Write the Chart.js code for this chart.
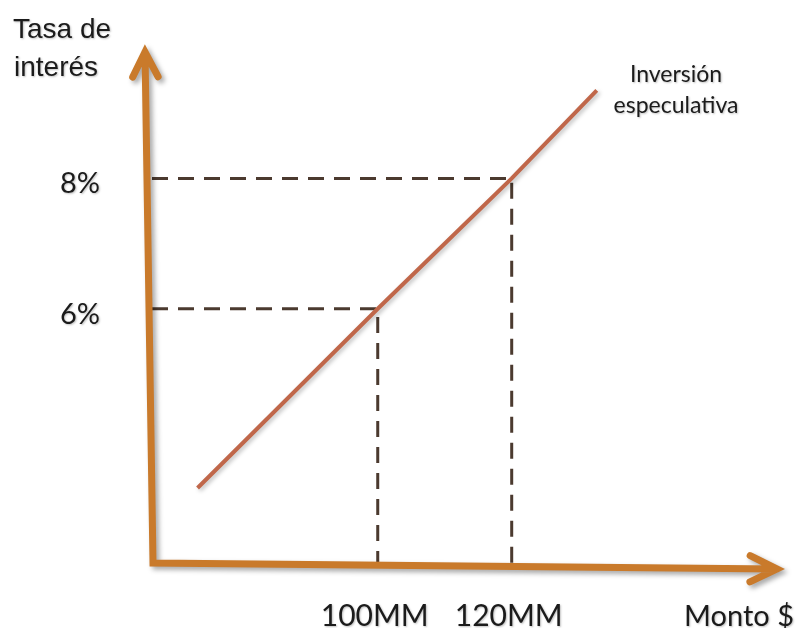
<!DOCTYPE html>
<html>
<head>
<meta charset="utf-8">
<script src="https://cdn.jsdelivr.net/npm/chart.js@4.4.0/dist/chart.umd.min.js"></script>
<style>
  html, body { margin: 0; padding: 0; background: #ffffff; }
  #wrap { width: 797px; height: 628px; position: relative; }
</style>
</head>
<body>
<div id="wrap"><canvas id="c" width="797" height="628"></canvas></div>
<script>
// Speculative investment curve: amount (millions) against interest rate (%)
const curveMonto = [73.1, 100, 120, 132.7];
const curveTasa = [3.25, 6, 8, 9.35];

// Points highlighted with dashed guides
const guideMonto = [100, 120];
const guideTasa = [6, 8];

// Tick labels for the guides
const xTickLabels = ['100MM', '120MM'];
const yTickLabels = ['6%', '8%'];

// Axis extents (amount, rate)
const xRange = [66.3, 160.8];
const yRange = [2.1, 10];

const yTitle = ['Tasa de', 'interés'];
const xTitle = 'Monto $';
const curveName = ['Inversión', 'especulativa'];

const AXIS_COLOR = '#c97a2b';
const CURVE_COLOR = '#c0674a';
const GUIDE_COLOR = '#4b3a2f';
const TEXT_COLOR = '#1b1b1b';

const curveData = curveMonto.map((m, i) => ({ x: m, y: curveTasa[i] }));

const guideSets = guideMonto.map((m, i) => ({
  data: [
    { x: xRange[0], y: guideTasa[i] },
    { x: m, y: guideTasa[i] },
    { x: m, y: yRange[0] }
  ],
  showLine: true,
  borderColor: GUIDE_COLOR,
  borderWidth: 3,
  borderDash: [16, 10],
  borderCapStyle: 'butt',
  borderJoinStyle: 'miter',
  pointRadius: 0,
  tension: 0
}));

// Two wing end points of an open arrow head at `tip`, pointing away from `from`
function arrowPoints(from, tip, len, deg) {
  const dx = from.x - tip.x, dy = from.y - tip.y;
  const d = Math.hypot(dx, dy);
  const ux = dx / d, uy = dy / d;
  const a = deg * Math.PI / 180;
  const c = Math.cos(a), s = Math.sin(a);
  return [
    { x: tip.x + len * (ux * c - uy * s), y: tip.y + len * (ux * s + uy * c) },
    { x: tip.x + len * (ux * c + uy * s), y: tip.y + len * (-ux * s + uy * c) }
  ];
}

const decor = {
  id: 'decor',
  beforeDatasetDraw(chart, args) {
    if (args.index === 0) {
      const ctx = chart.ctx;
      ctx.save();
      ctx.shadowColor = 'rgba(0,0,0,0.25)';
      ctx.shadowBlur = 4;
      ctx.shadowOffsetX = 2;
      ctx.shadowOffsetY = 2;
    }
  },
  afterDatasetDraw(chart, args) {
    if (args.index === 0) chart.ctx.restore();
  },
  afterDatasetsDraw(chart) {
    const ctx = chart.ctx;
    const xs = chart.scales.x, ys = chart.scales.y;
    const origin = { x: xs.getPixelForValue(xRange[0]) + 1, y: ys.getPixelForValue(yRange[0]) };
    const yTip = { x: origin.x - 8, y: ys.getPixelForValue(yRange[1]) + 4 };
    const xTip = { x: xs.getPixelForValue(xRange[1]) - 8, y: origin.y + 6 };
    const yw = arrowPoints(origin, yTip, 28, 27);
    const xw = arrowPoints(origin, xTip, 30, 26);

    ctx.save();
    ctx.strokeStyle = AXIS_COLOR;
    ctx.lineWidth = 7;
    ctx.lineCap = 'round';
    ctx.lineJoin = 'miter';
    ctx.shadowColor = 'rgba(0,0,0,0.35)';
    ctx.shadowBlur = 5;
    ctx.shadowOffsetX = 3;
    ctx.shadowOffsetY = 3;
    ctx.beginPath();
    ctx.moveTo(yTip.x, yTip.y);
    ctx.lineTo(origin.x, origin.y);
    ctx.lineTo(xTip.x, xTip.y);
    ctx.moveTo(yw[0].x, yw[0].y);
    ctx.lineTo(yTip.x, yTip.y);
    ctx.lineTo(yw[1].x, yw[1].y);
    ctx.moveTo(xw[0].x, xw[0].y);
    ctx.lineTo(xTip.x, xTip.y);
    ctx.lineTo(xw[1].x, xw[1].y);
    ctx.stroke();
    ctx.restore();
  },
  afterDraw(chart) {
    const ctx = chart.ctx;
    const xs = chart.scales.x, ys = chart.scales.y;
    ctx.save();
    ctx.fillStyle = TEXT_COLOR;
    ctx.shadowColor = 'rgba(0,0,0,0.25)';
    ctx.shadowBlur = 2;
    ctx.shadowOffsetX = 1;
    ctx.shadowOffsetY = 1;
    ctx.textBaseline = 'alphabetic';

    // Axis titles
    ctx.font = '28px "Liberation Sans", Arial, sans-serif';
    ctx.textAlign = 'left';
    ctx.fillText(yTitle[0], 13, 38);
    ctx.fillText(yTitle[1], 14, 76);

    ctx.font = '29px Lato, "Open Sans", sans-serif';
    ctx.textAlign = 'right';
    ctx.fillText(xTitle, 794, 626);

    // Tick labels on the guides
    yTickLabels.forEach((t, i) => {
      ctx.fillText(t, 100, ys.getPixelForValue(guideTasa[i]) + 15);
    });
    ctx.font = '30px Lato, "Open Sans", sans-serif';
    ctx.textAlign = 'center';
    xTickLabels.forEach((t, i) => {
      ctx.fillText(t, xs.getPixelForValue(guideMonto[i]) - 3, 626);
    });

    // Curve name
    ctx.font = '23px Lato, "Open Sans", sans-serif';
    ctx.fillText(curveName[0], 676, 82);
    ctx.fillText(curveName[1], 676, 113);
    ctx.restore();
  }
};

new Chart(document.getElementById('c'), {
  type: 'scatter',
  data: {
    datasets: [
      {
        data: curveData,
        showLine: true,
        borderColor: CURVE_COLOR,
        borderWidth: 4,
        borderCapStyle: 'butt',
        pointRadius: 0,
        tension: 0
      },
      ...guideSets
    ]
  },
  options: {
    responsive: false,
    animation: false,
    events: [],
    layout: { padding: { left: 152, top: 48, right: 12, bottom: 65 } },
    scales: {
      x: { type: 'linear', min: xRange[0], max: xRange[1], display: false },
      y: { type: 'linear', min: yRange[0], max: yRange[1], display: false }
    },
    plugins: {
      legend: { display: false },
      tooltip: { enabled: false }
    }
  },
  plugins: [decor]
});
</script>
</body>
</html>
